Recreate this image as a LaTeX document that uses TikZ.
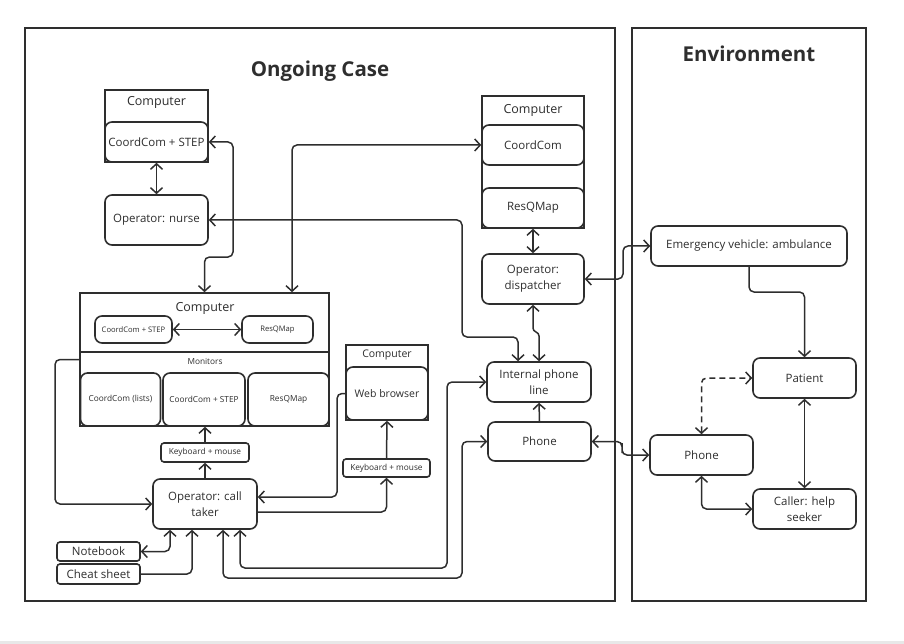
\documentclass[tikz,border=0pt]{standalone}
\usepackage{fontspec}
\setmainfont{Open Sans}
\usetikzlibrary{arrows.meta}
\definecolor{ink}{HTML}{2E2E2E}
\begin{document}
\begin{tikzpicture}[x=1pt,y=-1pt,
  every node/.style={text=ink},
  box/.style={draw=ink, line width=1.6pt, rounded corners=7pt, fill=white, inner sep=0pt, align=center, font=\fontsize{11.5}{16}\selectfont},
  sq/.style={draw=ink, line width=1.6pt, fill=white, inner sep=0pt},
  lbl/.style={inner sep=0pt, font=\fontsize{12.5}{14}\selectfont},
  small/.style={font=\fontsize{7.6}{9}\selectfont},
  mid/.style={font=\fontsize{8.3}{10}\selectfont},
  title/.style={inner sep=0pt, font=\fontsize{20.5}{22}\selectfont\bfseries},
  frame/.style={draw=ink, line width=1.6pt},
  conn/.style={draw=ink, line width=1.5pt, rounded corners=5pt},
  >={Straight Barb[length=5.5pt,width=12pt]},
  ]
\useasboundingbox (0,0) rectangle (904,644);
\fill[gray!18] (0,641) rectangle (904,644);

% frames
\draw[frame] (25,28) rectangle (615,601);
\draw[frame] (632,28) rectangle (866,601);
\node[title] (tongoing) at (320,71) {Ongoing Case};
\node[title] (tenv) at (749,54) {Environment};

% top-left computer
\node[sq, minimum width=103pt, minimum height=72pt] (tlcomp) at (156.5,126) {};
\node[lbl] (tlcomplbl) at (156.5,102) {Computer};
\node[box, minimum width=103pt, minimum height=40pt] (tlccs) at (156.5,142) {CoordCom + STEP};
\node[box, minimum width=103pt, minimum height=50pt] (nurse) at (156.5,220) {Operator: nurse};

% big computer
\node[sq, minimum width=249pt, minimum height=133pt] (bigcomp) at (204.5,359.5) {};
\draw[ink, line width=1.6pt] (bigcomp.west |- 0,352) coordinate (dl) -- (bigcomp.east |- 0,352) coordinate (dr);
\node[lbl] (bclbl) at (205,308) {Computer};
\node[box, small, minimum width=77pt, minimum height=27pt] (sccs) at (133.5,329.5) {CoordCom + STEP};
\node[box, small, minimum width=71pt, minimum height=27pt] (srqm) at (277.5,329.5) {ResQMap};
\node[lbl, mid] (monlbl) at (205,361) {Monitors};
\node[box, mid, minimum width=80pt, minimum height=53pt] (m1) at (120.5,399.5) {CoordCom (lists)};
\node[box, mid, minimum width=82pt, minimum height=53pt] (m2) at (204,399.5) {CoordCom + STEP};
\node[box, mid, minimum width=81pt, minimum height=53pt] (m3) at (288.5,399.5) {ResQMap};

\node[box, mid, rounded corners=3pt, minimum width=88pt, minimum height=19pt] (kb1) at (205,452.5) {Keyboard + mouse};
\node[box, minimum width=104pt, minimum height=50pt] (ct) at (205,504) {Operator: call\\taker};
\node[box, rounded corners=3pt, minimum width=83pt, minimum height=19pt] (notebook) at (98.5,551.5) {Notebook};
\node[box, rounded corners=3pt, minimum width=83pt, minimum height=20pt] (cheat) at (98.5,574) {Cheat sheet};

% web computer
\node[sq, minimum width=82pt, minimum height=75pt] (webcomp) at (387,382.5) {};
\node[lbl, font=\fontsize{10.5}{12}\selectfont] (weblbl) at (387,355) {Computer};
\node[box, font=\fontsize{10.5}{12}\selectfont, minimum width=82pt, minimum height=53pt] (web) at (387,393.5) {Web browser};
\node[box, mid, rounded corners=3pt, minimum width=87pt, minimum height=18pt] (kb2) at (386.5,468) {Keyboard + mouse};

% right computer
\node[sq, minimum width=102pt, minimum height=132pt] (rcomp) at (533,162) {};
\node[lbl] (rclbl) at (533,110) {Computer};
\node[box, minimum width=102pt, minimum height=40pt] (rcc) at (533,145) {CoordCom};
\node[box, minimum width=102pt, minimum height=40pt] (rrq) at (533,208) {ResQMap};
\node[box, minimum width=102pt, minimum height=50pt] (disp) at (533,279) {Operator:\\dispatcher};
\node[box, minimum width=104pt, minimum height=40pt] (ipl) at (539,382) {Internal phone\\line};
\node[box, minimum width=103pt, minimum height=39pt] (phone1) at (539.5,441.5) {Phone};

% environment
\node[box, minimum width=196pt, minimum height=40pt] (amb) at (749,246) {Emergency vehicle: ambulance};
\node[box, minimum width=103pt, minimum height=40pt] (patient) at (804.5,378) {Patient};
\node[box, minimum width=103pt, minimum height=40pt] (phone2) at (701.5,455) {Phone};
\node[box, minimum width=103pt, minimum height=40pt] (caller) at (804.5,509) {Caller: help\\seeker};

% connectors
\draw[conn,<->] (tlccs.south) -- (nurse.north);
\draw[conn,<->] (bigcomp.north) -- (204.5,257) -- (233,257) -- (233,142) -- (tlccs.east);
\draw[conn,<->] ([xshift=87.5pt]bigcomp.north) |- (rcc.west);
\draw[conn,<->] (nurse.east) -| (462,337) -| ([xshift=-21pt]ipl.north);
\draw[conn,<->,rounded corners=3pt] (disp.south) -- (533,331) -- (539,333) -- (ipl.north);
\draw[conn,<->] (rrq.south) -- (disp.north);
\draw[conn,<->] (disp.east) -| (623,262) |- (amb.west);
\draw[conn,->] (amb.south) |- (776,292) -| (patient.north);
\draw[conn,<->] (patient.south) -- (caller.north);
\draw[conn,<->,dashed,dash pattern=on 6pt off 4pt] (phone2.north) |- (patient.west);
\draw[conn,<->] (phone2.south) |- (caller.west);
\draw[conn,<->] (phone1.east) -| (622,448) |- (phone2.west);
\draw[conn,->] (phone1.north) -- (ipl.south);
\draw[conn,<->] (sccs.east) -- (srqm.west);
\draw[conn,->] (kb1.north) -- (kb1.north |- bigcomp.south);
\draw[conn,->] (ct.north) -- (kb1.south);
\draw[conn,->] (bigcomp.west) -| (55,430) |- (ct.west);
\draw[conn,->] ([yshift=-8pt]ct.east) -| (kb2.south);
\draw[conn,->] (kb2.north) -- (web.south);
\draw[conn,->] (web.west) -| (337,450) |- ([yshift=7pt]ct.east);
\draw[conn,<->] (notebook.east) -| ([xshift=-35pt]ct.south);
\draw[conn,->] (cheat.east) -| ([xshift=-13pt]ct.south);
\draw[conn,<->] ([xshift=35pt]ct.south) |- (447,568) |- (ipl.west);
\draw[conn,<->] ([xshift=18pt]ct.south) |- (462,578) |- (phone1.west);
\end{tikzpicture}
\end{document}
